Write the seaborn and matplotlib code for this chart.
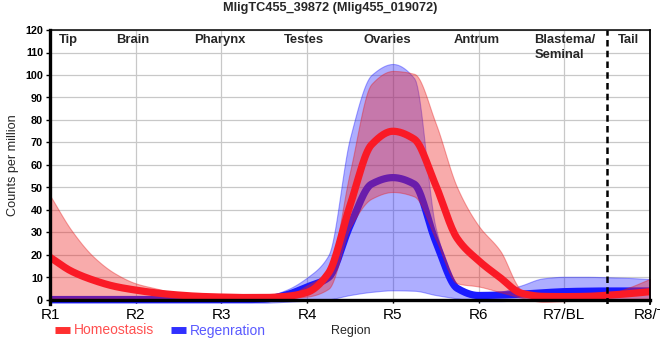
import numpy as np
import pandas as pd
import matplotlib
matplotlib.use("Agg")
import matplotlib.pyplot as plt
import seaborn as sns
from matplotlib.lines import Line2D

# ---------------- data ----------------
region_ticks = ["R1", "R2", "R3", "R4", "R5", "R6", "R7/BL", "R8/T"]
region_names = ["Tip", "Brain", "Pharynx", "Testes", "Ovaries", "Antrum"]
# sample positions along the body (quarter steps between region ticks)
sample_pos = [i / 4 for i in range(29)]

hom_mean = [19, 12.8, 8.9, 6.1, 4.4, 3.1, 2.2, 1.6, 1.3, 1.1, 1.1, 1.6, 3.4,
            12, 42, 69, 75, 71.5, 51, 27.4, 17.5, 10, 3, 1.6, 1.5, 1.6, 2.1, 2.8, 3.7]
hom_hi = [46.5, 31, 19.5, 12, 7.4, 5, 2.7, 1.5, 1.2, 1.1, 1.1, 1.8, 6.5,
          13, 57, 96, 101.8, 100.5, 78.5, 50, 33, 22, 4.5, 1.5, 1.2, 1.3, 2.5, 5.5, 9.4]
hom_lo = [0.8, 0.7, 0.6, 0.6, 0.5, 0.5, 0.5, 0.5, 0.5, 0.5, 0.5, 0.8, 1.5,
          5, 32, 45, 48, 46, 27, 7.4, 6, 3.5, 1.0, -0.8, -0.5, 0, 0.3, 0.5, 0.5]

reg_mean = [0.2, 0.2, 0.2, 0.2, 0.2, 0.2, 0.2, 0.2, 0.2, 0.2, 0.4, 2.2, 5.8,
            10, 33, 51.5, 54.4, 51.5, 26, 5.2, 2, 2.2, 2.6, 3.2, 3.7, 3.9, 4.0, 4.0, 4.0]
reg_hi = [1.5, 1.5, 1.5, 1.5, 1.5, 1.5, 1.5, 1.5, 1.5, 1.5, 1.6, 4.4, 10,
          20, 72, 100, 104.9, 98.5, 32, 5.9, 3, 3.7, 6.5, 9.6, 10.3, 10.3, 10.1, 9.8, 9.3]
reg_lo = [-1.2, -1.2, -1.2, -1.2, -1.2, -1.2, -1.2, -1.2, -1.2, -1.2, -1.2, -0.8, -0.3,
          0.3, 2.2, 3.6, 4.3, 4.1, 2.2, 0.7, -0.5, -0.5, 0, 0.3, 0.5, 0.5, 0.5, 0.3, 0]


def smooth_path(xs, ys, steps=16):
    """Monotone cubic curve through the given points (drawing style only)."""
    x = np.asarray(xs, float)
    y = np.asarray(ys, float)
    h = np.diff(x)
    d = np.diff(y) / h
    m = np.zeros_like(y)
    m[0], m[-1] = d[0], d[-1]
    for k in range(1, len(y) - 1):
        if d[k - 1] * d[k] <= 0:
            m[k] = 0.0
        else:
            w1 = 2 * h[k] + h[k - 1]
            w2 = h[k] + 2 * h[k - 1]
            m[k] = (w1 + w2) / (w1 / d[k - 1] + w2 / d[k])
    px, py = [], []
    for k in range(len(h)):
        t = np.linspace(0, 1, steps, endpoint=False)
        h00 = 2 * t**3 - 3 * t**2 + 1
        h10 = t**3 - 2 * t**2 + t
        h01 = -2 * t**3 + 3 * t**2
        h11 = t**3 - t**2
        px.append(x[k] + t * h[k])
        py.append(h00 * y[k] + h10 * h[k] * m[k] + h01 * y[k + 1] + h11 * h[k] * m[k + 1])
    px.append([x[-1]])
    py.append([y[-1]])
    return np.concatenate(px), np.concatenate(py)


# ---------------- style ----------------
sns.set_theme(style="white")
plt.rcParams["font.family"] = ["Liberation Sans", "DejaVu Sans"]

RED_LINE = "#fa1a26"
BLUE_LINE = "#1a1aff"
RED_FILL = "#ee2222"
BLUE_FILL = "#2a2aff"

fig = plt.figure(figsize=(6.6, 3.6), dpi=100)
ymin = -1.9
ax = fig.add_axes([50 / 660, 1 - (300 + 1.9 * 2.25) / 360,
                   600 / 660, (270 + 1.9 * 2.25) / 360])

# grid
for v in range(10, 121, 10):
    ax.axhline(v, color="#c8c8c8", lw=0.9, zorder=0)
for p in range(1, 7):
    ax.axvline(p, color="#c8c8c8", lw=0.9, zorder=0)


def draw_series(lo, hi, mean, fill, fill_edge, line, z):
    sx, slo = smooth_path(sample_pos, lo)
    _, shi = smooth_path(sample_pos, hi)
    _, smean = smooth_path(sample_pos, mean)
    ax.fill_between(sx, slo, shi, color=fill, alpha=0.38, lw=0.8,
                    edgecolor=fill_edge, zorder=z)
    sns.lineplot(x=sx, y=smean, ax=ax, color=line, lw=5.2, zorder=z + 1,
                 legend=False, sort=False)
    ax.lines[-1].set_solid_capstyle("butt")
    ax.lines[-1].set_solid_joinstyle("round")


draw_series(reg_lo, reg_hi, reg_mean, BLUE_FILL, (0.1, 0.1, 1, 0.35), BLUE_LINE, 2)
draw_series(hom_lo, hom_hi, hom_mean, RED_FILL, (0.9, 0.1, 0.1, 0.35), RED_LINE, 4)

# dashed separator
ax.axvline(6.5, color="black", lw=1.8, ls=(0, (2.6, 1.7)), zorder=6)

ax.set_xlim(0, 7)
ax.set_ylim(ymin, 120)
ax.set_xticks(range(8))
ax.set_xticklabels(region_ticks)
ax.set_yticks(range(0, 121, 10))
ax.set_xlabel("")
ax.set_ylabel("")
for lbl in ax.get_xticklabels():
    lbl.set_fontweight("bold")
    lbl.set_fontsize(8.6)
for lbl in ax.get_yticklabels():
    lbl.set_fontweight("bold")
    lbl.set_fontsize(7.8)
ax.tick_params(axis="y", direction="out", length=3, width=1, pad=2, colors="black")
ax.tick_params(axis="x", direction="out", length=2.5, width=1, pad=3.5, colors="black")
ax.tick_params(left=True, bottom=True)

ax.spines["bottom"].set_position(("data", 0))
for s, w in [("left", 2.4), ("bottom", 2.4), ("top", 1.1), ("right", 1.3)]:
    ax.spines[s].set_color("black")
    ax.spines[s].set_linewidth(w)
    ax.spines[s].set_zorder(7)

# region name labels
name_x = [0.105, 0.77, 1.68, 2.73, 3.66, 4.71]
base_v = (300 - 42.6) / 2.25
for nm, px in zip(region_names, name_x):
    ax.text(px, base_v, nm, fontsize=9.4, fontweight="bold", va="baseline",
            ha="left", zorder=8)
ax.text(5.65, base_v, "Blastema/", fontsize=9.4, fontweight="bold",
        va="baseline", ha="left", zorder=8)
ax.text(5.65, base_v - 15 / 2.25, "Seminal", fontsize=9.4, fontweight="bold",
        va="baseline", ha="left", zorder=8)
ax.text(6.63, base_v, "Tail", fontsize=9.4, fontweight="bold",
        va="baseline", ha="left", zorder=8)

# titles
fig.text(330 / 660, 1 - 8.5 / 360, "MligTC455_39872 (Mlig455_019072)",
         fontsize=9.2, fontweight="bold", ha="center", va="center")
fig.text(13.5 / 660, 1 - 165 / 360, "Counts per million", fontsize=9.1,
         rotation=90, ha="center", va="center")
fig.text(351 / 660, 1 - 331 / 360, "Region", fontsize=9, ha="center", va="center")

# legend
handles = [Line2D([], [], color="#ff3030", lw=5, solid_capstyle="butt"),
           Line2D([], [], color="#3030ff", lw=5, solid_capstyle="butt")]
leg = fig.legend(handles, ["Homeostasis", "Regenration"], loc="center left",
                 bbox_to_anchor=(55 / 660, 1 - 330.5 / 360), ncol=2,
                 frameon=False, fontsize=10, handlelength=1.07,
                 handletextpad=0.3, columnspacing=1.2, borderpad=0,
                 borderaxespad=0)
leg.get_texts()[0].set_color("#ff5050")
leg.get_texts()[1].set_color("#5a5aff")

fig.savefig("out.png", dpi=100)
